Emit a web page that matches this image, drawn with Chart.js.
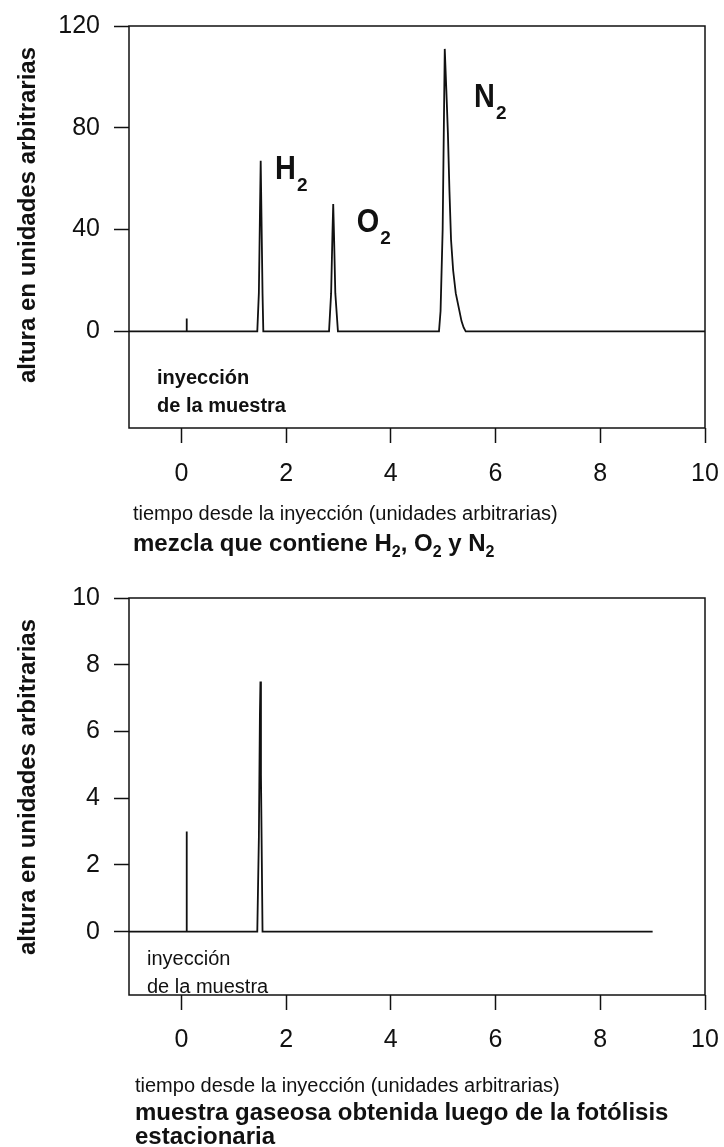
<!DOCTYPE html>
<html lang="es">
<head>
<meta charset="utf-8">
<title>Cromatogramas</title>
<script src="https://cdn.jsdelivr.net/npm/chart.js@4.4.1/dist/chart.umd.min.js"></script>
<style>
  html, body { margin: 0; padding: 0; background: #fff; }
  body { width: 724px; height: 1147px; position: relative; overflow: hidden; }
  .panel { position: absolute; left: 0; width: 724px; }
  #top-panel { top: 0; height: 560px; }
  #bottom-panel { top: 560px; height: 587px; }
</style>
</head>
<body>
<div class="panel" id="top-panel"><canvas id="mix-chart"></canvas></div>
<div class="panel" id="bottom-panel"><canvas id="photolysis-chart"></canvas></div>
<script>
// Chromatogram of the H2 / O2 / N2 mixture
const mixTimes   = [-1, 0.095, 0.1, 0.105, 1.45, 1.48, 1.50, 1.515, 1.53, 1.55, 1.565,
                    2.82, 2.86, 2.885, 2.90, 2.915, 2.94, 2.99,
                    4.92, 4.95, 4.99, 5.03, 5.06, 5.09, 5.12, 5.15, 5.19, 5.24, 5.30, 5.35, 5.39, 5.43,
                    10];
const mixHeights = [0, 0, 5, 0, 0, 15, 45, 67, 45, 15, 0,
                    0, 15, 38, 50, 38, 15, 0,
                    0, 8, 40, 111, 95, 78, 55, 36, 24, 15, 9, 4, 1.5, 0,
                    0];

// Chromatogram of the gas sample after stationary photolysis
const photoTimes   = [-1, 0.095, 0.1, 0.105, 1.45, 1.48, 1.50, 1.51, 1.52, 1.55, 9];
const photoHeights = [0, 0, 3, 0, 0, 2.8, 6.5, 7.5, 4.7, 0, 0];

const timeTicks = [0, 2, 4, 6, 8, 10];
const mixHeightTicks = [0, 40, 80, 120];
const photoHeightTicks = [0, 2, 4, 6, 8, 10];
const gasNames = ['H', 'O', 'N'];

const FONT = '"Liberation Sans", Arial, Helvetica, sans-serif';
const INK = '#111';

function toPoints(xs, ys) {
    return xs.map((t, i) => ({ x: t, y: ys[i] }));
}

// text made of plain runs and subscript runs: [text, isSubscript]
function drawRich(ctx, parts, x, y, size, weight) {
    parts.forEach(([text, sub]) => {
        ctx.font = `${weight} ${sub ? Math.round(size * 0.65) : size}px ${FONT}`;
        ctx.fillText(text, x, sub ? y + size * 0.25 : y);
        x += ctx.measureText(text).width;
    });
}

const decor = {
    id: 'decor',
    afterDraw(chart, args, opts) {
        const { ctx, chartArea: a, scales } = chart;
        ctx.save();

        // closed frame round the plot area
        ctx.strokeStyle = INK;
        ctx.lineWidth = 1.5;
        ctx.strokeRect(a.left, a.top, a.right - a.left, a.bottom - a.top);

        ctx.fillStyle = INK;
        ctx.textAlign = 'left';
        ctx.textBaseline = 'alphabetic';

        // vertical axis title
        ctx.save();
        ctx.translate(opts.titleX, opts.titleY);
        ctx.rotate(-Math.PI / 2);
        ctx.textAlign = 'center';
        ctx.font = `bold 24px ${FONT}`;
        ctx.fillText('altura en unidades arbitrarias', 0, 0);
        ctx.restore();

        // injection note inside the frame
        ctx.font = `${opts.noteWeight} 20px ${FONT}`;
        ctx.fillText('inyección', opts.noteX, opts.noteY);
        ctx.fillText('de la muestra', opts.noteX, opts.noteY + 28);

        // peak names, placed in data units
        (opts.peaks || []).forEach(p => {
            const px = scales.x.getPixelForValue(p.t);
            const py = scales.y.getPixelForValue(p.h);
            ctx.save();
            ctx.translate(px, py);
            ctx.scale(0.85, 1);
            ctx.font = `bold 34px ${FONT}`;
            ctx.fillText(p.name, 0, 0);
            const w = ctx.measureText(p.name).width * 0.85;
            ctx.restore();
            ctx.font = `bold 19px ${FONT}`;
            ctx.fillText('2', px + w + 1, py + 12);
        });

        // captions under the axis
        opts.captions.forEach(c => {
            drawRich(ctx, c.parts, c.x, c.y, c.size, c.weight);
        });

        ctx.restore();
    }
};

function makeChart(id, xs, ys, cfg) {
    const axisGrid = {
        drawOnChartArea: false,
        drawTicks: true,
        tickLength: 15,
        tickColor: INK,
        tickWidth: 1.5
    };
    return new Chart(document.getElementById(id).getContext('2d'), {
        type: 'line',
        data: {
            datasets: [{
                data: toPoints(xs, ys),
                borderColor: INK,
                borderWidth: 1.8,
                pointRadius: 0,
                tension: 0,
                fill: false
            }]
        },
        options: {
            responsive: true,
            maintainAspectRatio: false,
            animation: false,
            events: [],
            layout: { padding: { top: cfg.areaTop, right: 19, left: 0, bottom: 0 } },
            plugins: {
                legend: { display: false },
                tooltip: { enabled: false },
                decor: cfg.decor
            },
            scales: {
                x: {
                    type: 'linear',
                    min: -1,
                    max: 10,
                    afterBuildTicks: axis => { axis.ticks = timeTicks.map(v => ({ value: v })); },
                    afterFit: axis => {
                        axis.height = cfg.axisHeight;
                        axis.paddingLeft = 0;
                        axis.paddingRight = 0;
                    },
                    grid: axisGrid,
                    border: { display: false },
                    ticks: {
                        color: INK,
                        font: { family: FONT, size: 25 },
                        padding: cfg.labelPad,
                        maxRotation: 0
                    }
                },
                y: {
                    type: 'linear',
                    min: cfg.yMin,
                    max: cfg.yMax,
                    afterBuildTicks: axis => { axis.ticks = cfg.yTicks.map(v => ({ value: v })); },
                    afterFit: axis => {
                        axis.width = 129;
                        axis.paddingTop = 0;
                        axis.paddingBottom = 0;
                    },
                    grid: axisGrid,
                    border: { display: false },
                    ticks: {
                        color: INK,
                        font: { family: FONT, size: 25 },
                        padding: 14
                    }
                }
            }
        },
        plugins: [decor]
    });
}

makeChart('mix-chart', mixTimes, mixHeights, {
    yMin: -38,
    yMax: 120,
    yTicks: mixHeightTicks,
    areaTop: 26,
    axisHeight: 132,
    labelPad: 16,
    decor: {
        titleX: 35,
        titleY: 215,
        noteX: 157,
        noteY: 384,
        noteWeight: 'bold',
        peaks: [
            { name: gasNames[0], t: 1.79, h: 60 },
            { name: gasNames[1], t: 3.35, h: 39 },
            { name: gasNames[2], t: 5.59, h: 88 }
        ],
        captions: [
            { x: 133, y: 520, size: 20, weight: 'normal',
              parts: [['tiempo desde la inyección (unidades arbitrarias)', false]] },
            { x: 133, y: 551, size: 24, weight: 'bold',
              parts: [['mezcla que contiene H', false], ['2', true], [', O', false], ['2', true],
                      [' y N', false], ['2', true]] }
        ]
    }
});

makeChart('photolysis-chart', photoTimes, photoHeights, {
    yMin: -1.9,
    yMax: 10,
    yTicks: photoHeightTicks,
    areaTop: 38,
    axisHeight: 152,
    labelPad: 15,
    decor: {
        titleX: 35,
        titleY: 227,
        noteX: 147,
        noteY: 405,
        noteWeight: 'normal',
        peaks: [],
        captions: [
            { x: 135, y: 532, size: 20, weight: 'normal',
              parts: [['tiempo desde la inyección (unidades arbitrarias)', false]] },
            { x: 135, y: 560, size: 24, weight: 'bold',
              parts: [['muestra gaseosa obtenida luego de la fotólisis', false]] },
            { x: 135, y: 584, size: 24, weight: 'bold',
              parts: [['estacionaria', false]] }
        ]
    }
});
</script>
</body>
</html>
